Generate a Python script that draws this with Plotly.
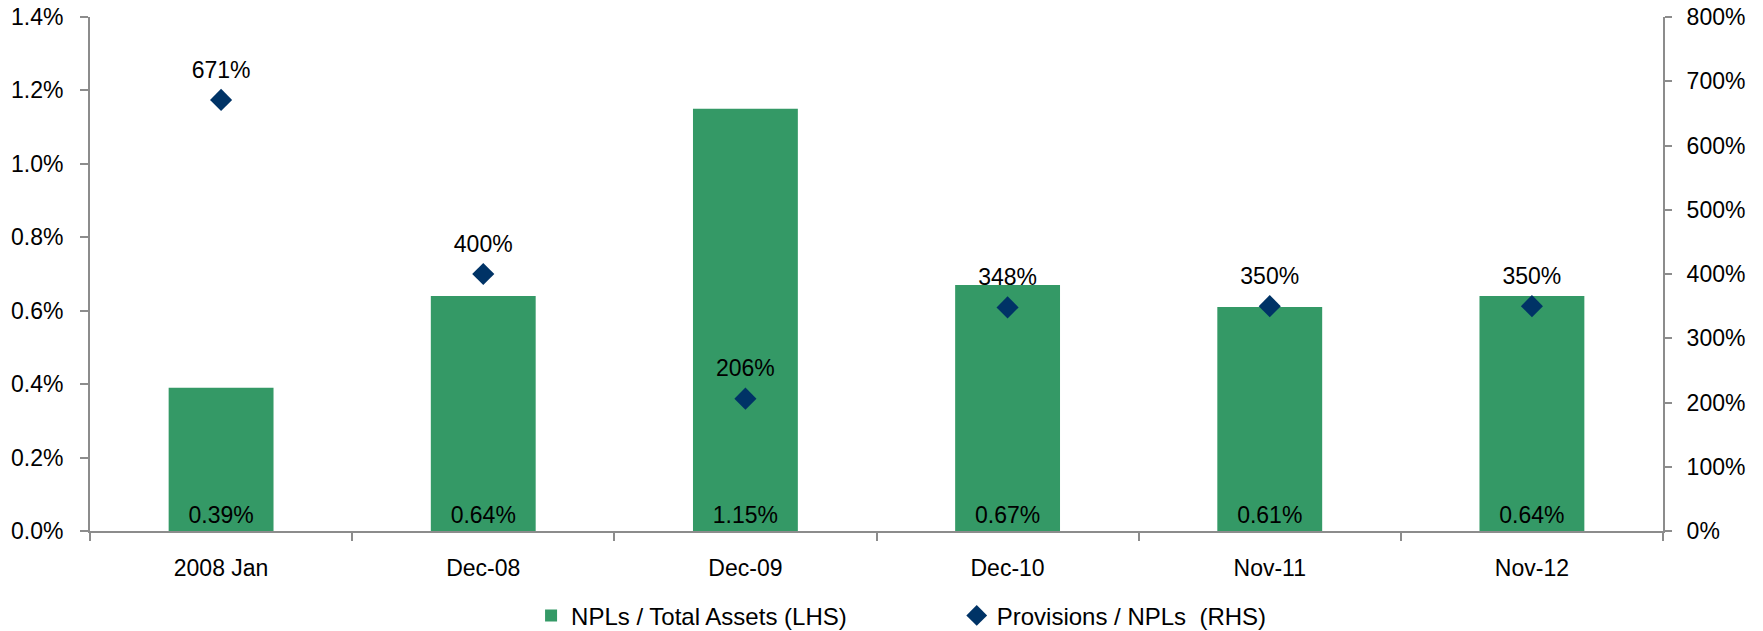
import plotly.graph_objects as go

categories = ["2008 Jan", "Dec-08", "Dec-09", "Dec-10", "Nov-11", "Nov-12"]
npl_total_assets = [0.39, 0.64, 1.15, 0.67, 0.61, 0.64]   # % (LHS)
provisions_npl = [671, 400, 206, 348, 350, 350]            # % (RHS)

left_ticks = [0, 0.2, 0.4, 0.6, 0.8, 1.0, 1.2, 1.4]
right_ticks = [0, 100, 200, 300, 400, 500, 600, 700, 800]

GREEN = "#349966"
NAVY = "#003366"
AXIS = "#8c8c8c"
FONT = "Liberation Sans, Arial, sans-serif"

fig = go.Figure()

fig.add_trace(go.Bar(
    x=categories, y=npl_total_assets,
    name="NPLs / Total Assets (LHS)",
    marker=dict(color=GREEN, line=dict(width=0)),
    width=0.4,
    texttemplate="%{y:.2f}%",
    textposition="inside",
    insidetextanchor="start",
    textfont=dict(color="black", size=23, family=FONT),
    textangle=0,
    legend="legend",
    yaxis="y",
))

fig.add_trace(go.Scatter(
    x=categories, y=provisions_npl,
    name="Provisions / NPLs  (RHS)",
    mode="markers",
    marker=dict(symbol="diamond", size=17, color=NAVY, line=dict(width=0)),
    legend="legend2",
    yaxis="y2",
))

# data labels for the diamonds (transparent larger marker gives the label offset)
fig.add_trace(go.Scatter(
    x=categories, y=provisions_npl,
    mode="markers+text",
    marker=dict(symbol="diamond", size=25, color="rgba(0,0,0,0)", line=dict(width=0)),
    text=[f"{v}%" for v in provisions_npl],
    textposition="top center",
    textfont=dict(color="black", size=23, family=FONT),
    showlegend=False,
    hoverinfo="skip",
    legend="legend2",
    yaxis="y2",
))

fig.update_layout(
    width=1763, height=631,
    margin=dict(l=90, r=100, t=17, b=100, autoexpand=False),
    paper_bgcolor="white", plot_bgcolor="white",
    font=dict(family=FONT, size=23, color="black"),
    showlegend=True,
    xaxis=dict(
        type="category",
        range=[-0.5, 5.5],
        tickson="boundaries",
        ticks="outside", ticklen=8, tickcolor=AXIS, tickwidth=2,
        showline=True, linecolor=AXIS, linewidth=2,
        showgrid=False, zeroline=False,
        tickfont=dict(size=23, color="black"),
        ticklabelstandoff=15,
    ),
    yaxis=dict(
        range=[0, 1.4],
        tickvals=left_ticks,
        ticktext=[f"{v:.1f}%" for v in left_ticks],
        ticks="outside", ticklen=8, tickcolor=AXIS, tickwidth=2,
        showline=True, linecolor=AXIS, linewidth=2,
        showgrid=False, zeroline=False,
        tickfont=dict(size=23, color="black"),
        ticklabelstandoff=12,
    ),
    yaxis2=dict(
        range=[0, 800],
        overlaying="y", side="right",
        tickvals=right_ticks,
        ticktext=[f"{v}%" for v in right_ticks],
        ticks="outside", ticklen=7, tickcolor=AXIS, tickwidth=2,
        showline=True, linecolor=AXIS, linewidth=2,
        showgrid=False, zeroline=False,
        tickfont=dict(size=23, color="black"),
        ticklabelstandoff=10,
    ),
    legend=dict(
        orientation="h", x=0.2804, y=-0.165, xanchor="left", yanchor="middle",
        font=dict(size=24, color="black"), bgcolor="rgba(0,0,0,0)",
    ),
    legend2=dict(
        orientation="h", x=0.551, y=-0.165, xanchor="left", yanchor="middle",
        font=dict(size=24, color="black"), bgcolor="rgba(0,0,0,0)",
    ),
)

fig.write_html("out.html")
